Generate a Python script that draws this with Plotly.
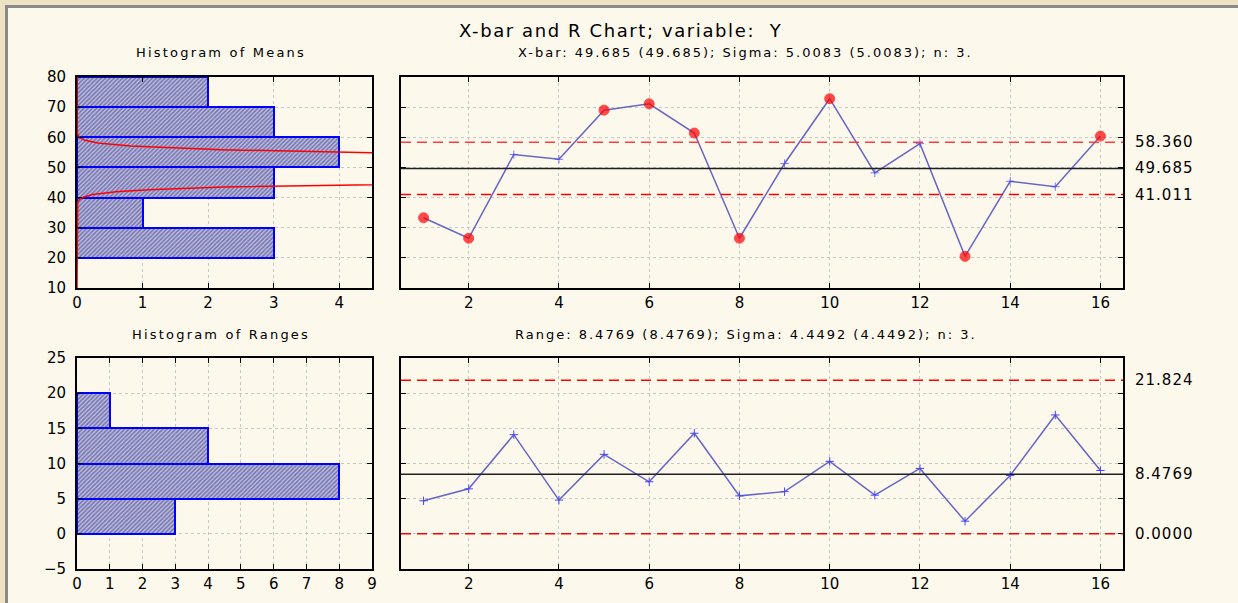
import math
import plotly.graph_objects as go

W, H = 1238, 603

# Sample numbers and subgroup statistics
samples = list(range(1, 17))
means = [33.3, 26.5, 54.3, 52.7, 69.0, 71.1, 61.4, 26.5, 51.3, 72.8, 48.2, 57.9, 20.5, 45.4, 43.6, 60.4]
ranges = [4.7, 6.4, 14.1, 4.8, 11.3, 7.4, 14.3, 5.4, 6.0, 10.3, 5.5, 9.3, 1.8, 8.3, 16.9, 9.0]

# Histogram bins (centres) and counts
mean_bin_centres = [25, 35, 45, 55, 65, 75]
mean_bin_counts = [3, 1, 3, 4, 3, 2]
mean_bin_width = 10
range_bin_centres = [2.5, 7.5, 12.5, 17.5]
range_bin_counts = [3, 8, 4, 1]
range_bin_width = 5

# Control limits
xbar_cl, xbar_ucl, xbar_lcl = 49.685, 58.360, 41.011
r_cl, r_ucl, r_lcl = 8.4769, 21.824, 0.0
sigma = 5.0083
r_sigma = 4.4492
n_per_sample = 3
xbar_limit_labels = ["58.360", "49.685", "41.011"]
r_limit_labels = ["21.824", "8.4769", "0.0000"]

FONT = "DejaVu Sans"
BLUE_EDGE = "#0000ff"
LINE_BLUE = "#6666c4"


def px_x(p):
    return p / W


def px_y(p):
    return 1 - p / H


def spaced(text, ls):
    return f'<span style="letter-spacing:{ls}px">{text}</span>'


fig = go.Figure()

hatch = dict(shape="/", fgcolor="#2a2a7e", bgcolor="#c2c2e2", size=3, solidity=0.55)

# Histogram of means
fig.add_trace(go.Bar(
    x=mean_bin_counts, y=mean_bin_centres, orientation="h", width=mean_bin_width,
    marker=dict(color="#c2c2e2", pattern=hatch, line=dict(color=BLUE_EDGE, width=2)),
    xaxis="x", yaxis="y", showlegend=False, hoverinfo="skip"))

# Fitted normal curve for the means histogram
sig_m = sigma / math.sqrt(n_per_sample)
n_samples = len(means)
curve_y = [10 + i * 0.1 for i in range(701)]
curve_x = [n_samples * mean_bin_width * math.exp(-0.5 * ((v - xbar_cl) / sig_m) ** 2)
           / (sig_m * math.sqrt(2 * math.pi)) for v in curve_y]
fig.add_trace(go.Scatter(x=curve_x, y=curve_y, mode="lines",
                         line=dict(color="#ff0000", width=1.5),
                         xaxis="x", yaxis="y", showlegend=False, hoverinfo="skip"))

# X-bar chart
out = [(m > xbar_ucl or m < xbar_lcl) for m in means]
fig.add_trace(go.Scatter(
    x=samples, y=means, mode="lines+markers",
    line=dict(color=LINE_BLUE, width=1.5),
    marker=dict(
        symbol=["circle" if o else "cross-thin-open" for o in out],
        size=[10 if o else 6 for o in out],
        color=["#ff0000" if o else "#4646ff" for o in out],
        line=dict(color=["#ff0000" if o else "#4646ff" for o in out], width=1)),
    xaxis="x2", yaxis="y2", showlegend=False))

# Histogram of ranges
fig.add_trace(go.Bar(
    x=range_bin_counts, y=range_bin_centres, orientation="h", width=range_bin_width,
    marker=dict(color="#c2c2e2", pattern=hatch, line=dict(color=BLUE_EDGE, width=2)),
    xaxis="x3", yaxis="y3", showlegend=False, hoverinfo="skip"))

# R chart
fig.add_trace(go.Scatter(
    x=samples, y=ranges, mode="lines+markers",
    line=dict(color=LINE_BLUE, width=1.5),
    marker=dict(symbol="cross-thin-open", size=6, color="#4646ff",
                line=dict(color="#4646ff", width=1)),
    xaxis="x4", yaxis="y4", showlegend=False))

axis_common = dict(
    showline=True, linecolor="black", linewidth=2, mirror="ticks",
    ticks="inside", ticklen=5, tickcolor="black", tickwidth=1,
    showgrid=True, gridcolor="#c8c8c8", griddash="dot", gridwidth=1,
    zeroline=False, tickfont=dict(family=FONT, size=15, color="black"),
    fixedrange=True, automargin=False,
)

top_dom = [px_y(288), px_y(77)]
bot_dom = [px_y(569), px_y(358)]
hist_dom = [px_x(77), px_x(372)]
line_dom = [px_x(401), px_x(1123)]

fig.update_layout(
    width=W, height=H, margin=dict(l=0, r=0, t=0, b=0, pad=0, autoexpand=False),
    paper_bgcolor="#eee2c4", plot_bgcolor="white",
    bargap=0,
    xaxis=dict(axis_common, domain=hist_dom, range=[0, 4.5], dtick=1, tick0=0, anchor="y"),
    yaxis=dict(axis_common, domain=top_dom, range=[10, 80], dtick=10, tick0=0, anchor="x",
               ticklabelstandoff=6),
    xaxis2=dict(axis_common, domain=line_dom, range=[0.5, 16.5],
                tickvals=[2, 4, 6, 8, 10, 12, 14, 16], anchor="y2"),
    yaxis2=dict(axis_common, domain=top_dom, range=[10, 80], dtick=10, tick0=0,
                showticklabels=False, anchor="x2"),
    xaxis3=dict(axis_common, domain=hist_dom, range=[0, 9], dtick=1, tick0=0, anchor="y3"),
    yaxis3=dict(axis_common, domain=bot_dom, range=[-5, 25], dtick=5, tick0=0, anchor="x3",
                ticklabelstandoff=6),
    xaxis4=dict(axis_common, domain=line_dom, range=[0.5, 16.5],
                tickvals=[2, 4, 6, 8, 10, 12, 14, 16], anchor="y4"),
    yaxis4=dict(axis_common, domain=bot_dom, range=[-5, 25], dtick=5, tick0=0,
                showticklabels=False, anchor="x4"),
)

shapes = [
    # cream panel with grey frame
    dict(type="rect", xref="paper", yref="paper", x0=px_x(6.5), x1=1.05, y0=-0.05, y1=px_y(6.5),
         fillcolor="#fdf8ec", line=dict(color="#8a8a8a", width=3), layer="below"),
]


def hline(y, yref, xref, color, dash, width=1.5):
    return dict(type="line", xref=f"{xref} domain", yref=yref, x0=0, x1=1, y0=y, y1=y,
                line=dict(color=color, width=width, dash=dash), layer="above")


shapes += [
    hline(xbar_ucl, "y2", "x2", "#ff3c3c", "10px,6px"),
    hline(xbar_cl, "y2", "x2", "#202020", "solid"),
    hline(xbar_lcl, "y2", "x2", "#ff0000", "10px,6px"),
    hline(r_ucl, "y4", "x4", "#ff0000", "10px,6px"),
    hline(r_cl, "y4", "x4", "#202020", "solid"),
    hline(r_lcl, "y4", "x4", "#ff0000", "10px,6px"),
]
fig.update_layout(shapes=shapes)

annotations = []
for val, txt in zip([xbar_ucl, xbar_cl, xbar_lcl], xbar_limit_labels):
    annotations.append(dict(x=px_x(1133), xref="paper", y=val, yref="y2", text=spaced(txt, 1),
                            showarrow=False, xanchor="left", yanchor="middle",
                            font=dict(family=FONT, size=15, color="black")))
for val, txt in zip([r_ucl, r_cl, r_lcl], r_limit_labels):
    annotations.append(dict(x=px_x(1133), xref="paper", y=val, yref="y4", text=spaced(txt, 1),
                            showarrow=False, xanchor="left", yanchor="middle",
                            font=dict(family=FONT, size=15, color="black")))


def title_text(text, cx, cy, size, ls):
    return dict(x=px_x(cx), y=px_y(cy), xref="paper", yref="paper", text=spaced(text, ls),
                showarrow=False, xanchor="center", yanchor="middle",
                font=dict(family=FONT, size=size, color="black"))


annotations += [
    title_text("X-bar and R Chart; variable:  Y", 620, 31, 18, 1.6),
    title_text("Histogram of Means", 221, 52, 13, 2.2),
    title_text(f"X-bar: {xbar_cl:.3f} ({xbar_cl:.3f}); Sigma: {sigma:.4f} ({sigma:.4f}); n: {n_per_sample}.",
               745, 52, 13, 2.0),
    title_text("Histogram of Ranges", 221, 334, 13, 2.2),
    title_text(f"Range: {r_cl:.4f} ({r_cl:.4f}); Sigma: {r_sigma:.4f} ({r_sigma:.4f}); n: {n_per_sample}.",
               746, 334, 13, 2.0),
]
fig.update_layout(annotations=annotations)

fig.write_html("out.html")
